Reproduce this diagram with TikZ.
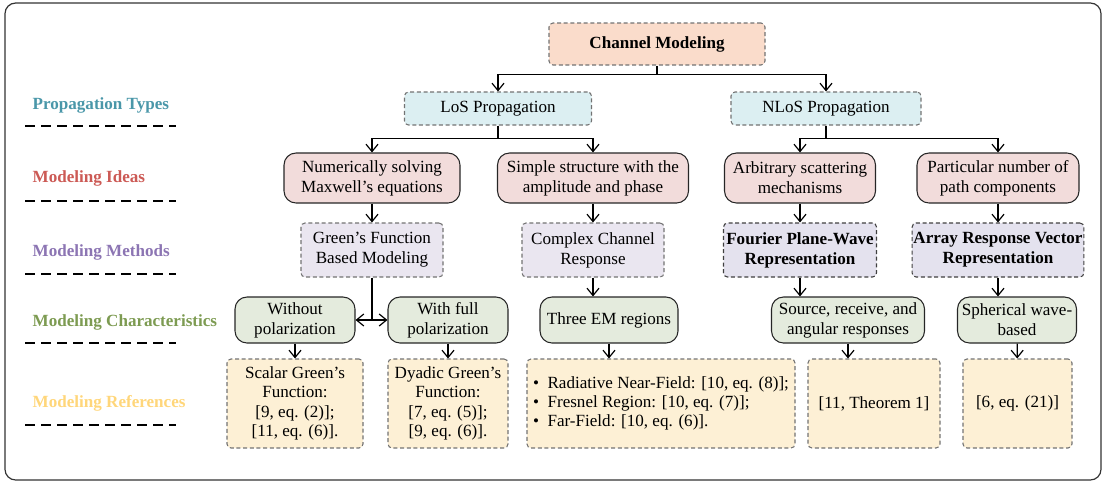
\documentclass[tikz,border=0pt]{standalone}
\usepackage{fontspec}
\setmainfont{Liberation Serif}
\usepackage{xcolor}
\usetikzlibrary{arrows.meta}

\definecolor{topfill}{HTML}{FADCCB}
\definecolor{propfill}{HTML}{DCEFF2}
\definecolor{ideafill}{HTML}{F2DCDB}
\definecolor{methfill}{HTML}{EAE6F0}
\definecolor{methfilldk}{HTML}{E4E2EE}
\definecolor{charfill}{HTML}{E4EBDD}
\definecolor{reffill}{HTML}{FDF0D5}
\definecolor{propcol}{HTML}{4A97A9}
\definecolor{ideacol}{HTML}{CC5A55}
\definecolor{methcol}{HTML}{8C75B3}
\definecolor{charcol}{HTML}{7D9B52}
\definecolor{refcol}{HTML}{FFD67A}

\begin{document}
\begin{tikzpicture}[x=0.75pt,y=-0.75pt,>={Straight Barb[length=5.5pt,width=9pt]},
    font=\fontsize{12.8}{15}\selectfont,
    wh/.style 2 args={minimum width=#1*0.75pt,minimum height=#2*0.75pt},
    box/.style={align=center,inner sep=1pt,line width=0.8pt},
    dbox/.style={box,draw=black!55,dashed,dash pattern=on 3pt off 2pt,rounded corners=3pt},
    rbox/.style={box,draw=black!85,rounded corners=9pt},
    conn/.style={line width=0.9pt}]
    \useasboundingbox (0,0) rectangle (1106,483);
    \draw[line width=0.9pt,black!80,rounded corners=8pt] (5,3) rectangle (1101,480);

    \foreach \y/\lab/\col/\dy in {105/Propagation Types/propcol/126,
        178/Modeling Ideas/ideacol/201,
        252/Modeling Methods/methcol/274,
        322/Modeling Characteristics/charcol/343,
        403/Modeling References/refcol/425}{
        \node[anchor=west,text=\col,font=\fontsize{12.8}{15}\selectfont\bfseries] at (28,\y) {\lab};
        \draw[line width=0.9pt,dash pattern=on 7.5pt off 4.5pt] (25,\dy) -- (176,\dy);
    }

    \node[dbox,fill=topfill,wh={216}{42},font=\fontsize{12.8}{15}\selectfont\bfseries] (cm) at (657,44) {Channel Modeling};

    \node[dbox,fill=propfill,wh={187}{33}] (los) at (498,108.5) {LoS Propagation};
    \node[dbox,fill=propfill,wh={190}{33}] (nlos) at (826,108.5) {NLoS Propagation};

    \node[rbox,fill=ideafill,wh={176}{50}] (num) at (372,178) {Numerically solving\\Maxwell's equations};
    \node[rbox,fill=ideafill,wh={191}{50}] (simple) at (593,178) {Simple structure with the\\amplitude and phase};
    \node[rbox,fill=ideafill,wh={151}{50}] (arb) at (800,178) {Arbitrary scattering\\mechanisms};
    \node[rbox,fill=ideafill,wh={162}{50}] (part) at (998,178) {Particular number of\\path components};

    \node[dbox,fill=methfill,wh={142}{54}] (green) at (372,250) {Green's Function\\Based Modeling};
    \node[dbox,fill=methfill,wh={142}{54}] (ccr) at (593,250) {Complex Channel\\Response};
    \node[dbox,draw=black!75,fill=methfilldk,wh={153}{54},font=\fontsize{12.8}{15}\selectfont\bfseries] (fpw) at (800,250) {Fourier Plane-Wave\\Representation};
    \node[dbox,draw=black!75,fill=methfilldk,wh={168}{54},font=\fontsize{12.8}{15}\selectfont\bfseries] (arv) at (998,250) {Array Response Vector\\Representation};

    \node[rbox,fill=charfill,wh={120}{46}] (nopol) at (295,320) {Without\\polarization};
    \node[rbox,fill=charfill,wh={120}{46}] (fullpol) at (448,320) {With full\\polarization};
    \node[rbox,fill=charfill,wh={138}{46}] (three) at (609,320) {Three EM regions};
    \node[rbox,fill=charfill,wh={153}{46}] (src) at (848,320) {Source, receive, and\\angular responses};
    \node[rbox,fill=charfill,wh={119}{46}] (sph) at (1017,320) {Spherical wave-\\based};

    \node[dbox,fill=reffill,wh={136}{89},font=\fontsize{12.8}{14.5}\selectfont] (scalar) at (295,403.5) {Scalar Green's\\Function:\\{}[9, eq. (2)];\\{}[11, eq. (6)].};
    \node[dbox,fill=reffill,wh={120}{89},font=\fontsize{12.8}{14.5}\selectfont] (dyadic) at (448,403.5) {Dyadic Green's\\Function:\\{}[7, eq. (5)];\\{}[9, eq. (6)].};
    \node[dbox,fill=reffill,wh={268}{89},align=left,font=\fontsize{12.8}{14.5}\selectfont] (regions) at (661,403.5) {\textbullet\ \ Radiative Near-Field: [10, eq. (8)];\\\textbullet\ \ Fresnel Region: [10, eq. (7)];\\\textbullet\ \ Far-Field: [10, eq. (6)].};
    \node[dbox,fill=reffill,wh={132}{89}] (thm) at (874,403.5) {[11, Theorem 1]};
    \node[dbox,fill=reffill,wh={109}{89}] (sixref) at (1017.5,403.5) {[6, eq. (21)]};

    \draw[conn] (cm.south) -- ++(0,9) coordinate (j0);
    \draw[conn,->] (j0) -| (los.north);
    \draw[conn,->] (j0) -| (nlos.north);
    \draw[conn] (los.south) -- ++(0,13) coordinate (j1);
    \draw[conn,->] (j1) -| (num.north);
    \draw[conn,->] (j1) -| (simple.north);
    \draw[conn] (nlos.south) -- ++(0,13) coordinate (j2);
    \draw[conn,->] (j2) -| (arb.north);
    \draw[conn,->] (j2) -| (part.north);

    \draw[conn,->] (num) -- (green);
    \draw[conn,->] (simple) -- (ccr);
    \draw[conn,->] (arb) -- (fpw);
    \draw[conn,->] (part) -- (arv);

    \draw[conn] (green.south) -- (green.south |- nopol.east) coordinate (j3);
    \draw[conn,->] (j3) -- (nopol.east);
    \draw[conn,->] (j3) -- (fullpol.west);
    \draw[conn,->] (ccr.south) -- (ccr.south |- three.north);
    \draw[conn,->] (fpw.south) -- (fpw.south |- src.north);
    \draw[conn,->] (arv.south) -- (arv.south |- sph.north);

    \draw[conn,->] (nopol) -- (scalar);
    \draw[conn,->] (fullpol) -- (dyadic);
    \draw[conn,->] (three.south) -- (three.south |- regions.north);
    \draw[conn,->] (src.south) -- (src.south |- thm.north);
    \draw[conn,->] (sph) -- (sixref);
\end{tikzpicture}
\end{document}
